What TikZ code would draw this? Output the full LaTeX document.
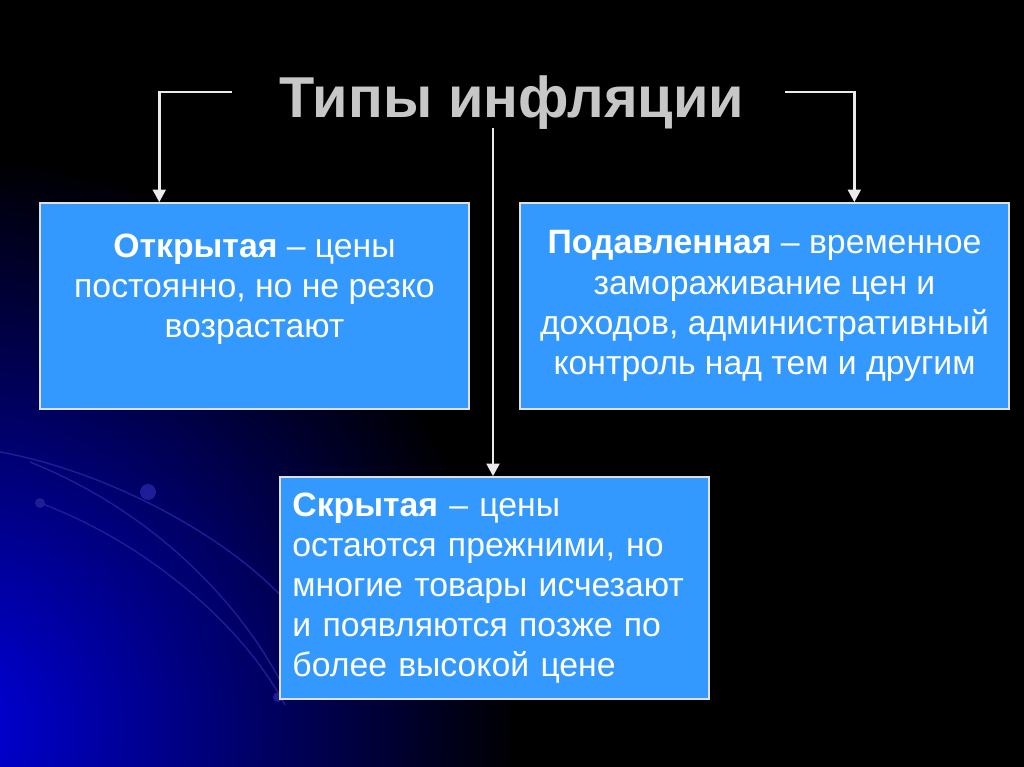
\documentclass[tikz,border=0pt]{standalone}
\usepackage{fontspec}
\setmainfont{Liberation Sans}
\usetikzlibrary{arrows.meta}
\definecolor{boxblue}{RGB}{51,153,255}
\definecolor{swirl}{RGB}{30,30,150}
\begin{document}
\begin{tikzpicture}[x=0.025cm,y=-0.025cm,
typebox/.style={draw=black!12, fill=boxblue, line width=1pt, text=white, inner xsep=0.3cm,
  font=\fontsize{24}{28.5}\selectfont},
link/.style={draw=black!8, line width=2.1pt, -{Triangle[length=9pt,width=9pt]}}
]
    % background
    \fill[black] (0,0) rectangle (1024,767);
    \begin{scope}
    \clip (0,0) rectangle (1024,767);
    \shade[inner color={rgb,255:red,0;green,0;blue,225}, outer color=black] (-60,730) circle (580);
    \draw[swirl, line width=1pt] (0,452) .. controls (100,470) and (220,530) .. (285,600);
    \draw[swirl, line width=1pt] (30,462) .. controls (150,510) and (240,600) .. (285,690);
    \draw[swirl, line width=1pt] (40,503) .. controls (140,540) and (240,620) .. (285,705);
    \fill[swirl] (148,492) circle (8);
    \fill[swirl] (40,503) circle (5);
    \fill[swirl] (278,697) circle (5);
    \end{scope}

    % title
    \node [anchor=base, text=black!22, font=\fontsize{41}{48}\selectfont\bfseries] (t) at (512,118) {Типы инфляции};

    % boxes
    \node [typebox, align=center, minimum width=10.725cm, minimum height=5.15cm] (b1) at (254.5,306)
      {\textbf{Открытая} – цены\\постоянно, но не резко\\возрастают\\~};
    \node [typebox, align=center, minimum width=12.225cm, minimum height=5.15cm] (b2) at (764.5,306)
      {\textbf{Подавленная} – временное\\замораживание цен и\\доходов, административный\\контроль над тем и другим};
    \node [typebox, align=left, text width=10.1cm, minimum width=10.725cm, minimum height=5.55cm] (b3) at (494.5,588)
      {\textbf{Скрытая} – цены\\остаются прежними, но\\многие товары исчезают\\и появляются позже по\\более высокой цене};

    % connectors
    \coordinate (lt) at (232,92);
    \coordinate (rt) at (785,92);
    \coordinate (mt) at (493,128);
    \draw[link] (lt) -| ([xshift=3cm]b1.north west);
    \draw[link] (rt) -| ([xshift=8.375cm]b2.north west);
    \draw[link] (mt) -- (mt |- b3.north);

\end{tikzpicture}
\end{document}
